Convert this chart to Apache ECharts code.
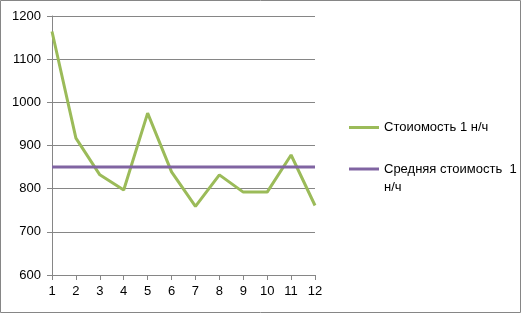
<!DOCTYPE html>
<html><head><meta charset="utf-8">
<script src="https://cdn.jsdelivr.net/npm/echarts@6/dist/echarts.min.js"></script>
<style>html,body{margin:0;padding:0;background:#fff}#c{width:521px;height:313px}</style>
</head><body><div id="c"></div>
<script>
const categories = ['1','2','3','4','5','6','7','8','9','10','11','12'];
const costValues = [1164, 917, 832, 797, 975, 839, 759, 832, 792, 792, 878, 761];
const avgValues = [850, 850, 850, 850, 850, 850, 850, 850, 850, 850, 850, 850];
const seriesNames = ['Стоиомость 1 н/ч', 'Средняя стоимость  1 н/ч'];

const chart = echarts.init(document.getElementById('c'), null, {renderer:'canvas'});
const font = 'Liberation Sans';
const fs = 13;
chart.setOption({
  animation: false,
  backgroundColor: '#fff',
  graphic: [{type:'rect', shape:{x:0.5,y:0.5,width:520,height:312}, style:{fill:'none', stroke:'#868686', lineWidth:1}, silent:true}],
  grid: {left:52, right:206, top:16, bottom:38},
  legend: [
    {data:[seriesNames[0]], orient:'vertical', left:344, top:116, itemWidth:30, itemHeight:3, icon:'rect', itemGap:0,
     textStyle:{fontFamily:font, fontSize:fs, color:'#000'}},
    {data:[seriesNames[1]], orient:'vertical', left:344, top:137, itemWidth:30, itemHeight:3, icon:'rect', itemGap:0,
     formatter: function(n){ return '{pad| }\n{t|Средняя стоимость  1}\n{t|н/ч}'; },
     textStyle:{fontFamily:font, fontSize:fs, color:'#000',
       rich:{pad:{height:18, lineHeight:18, fontSize:fs}, t:{fontFamily:font, fontSize:fs, color:'#000', lineHeight:18, height:18}}}}
  ],
  xAxis: {type:'category', data:categories, boundaryGap:false,
    axisLine:{lineStyle:{color:'#868686'}},
    axisTick:{show:true, alignWithLabel:true, length:5, lineStyle:{color:'#868686'}},
    axisLabel:{fontFamily:font, fontSize:fs, color:'#000', margin:10}},
  yAxis: {type:'value', min:600, max:1200, interval:100,
    axisLine:{show:true, lineStyle:{color:'#868686'}},
    axisTick:{show:true, length:5, lineStyle:{color:'#868686'}},
    splitLine:{lineStyle:{color:'#868686'}},
    axisLabel:{fontFamily:font, fontSize:fs, color:'#000', margin:11, formatter:function(v){return String(v);}}},
  series: [
    {name:seriesNames[0], type:'line', data:costValues, symbol:'none', color:'#9BBB59', lineStyle:{width:3, color:'#9BBB59'}},
    {name:seriesNames[1], type:'line', data:avgValues, symbol:'none', color:'#8064A2', lineStyle:{width:3, color:'#8064A2'}}
  ]
});
</script></body></html>
